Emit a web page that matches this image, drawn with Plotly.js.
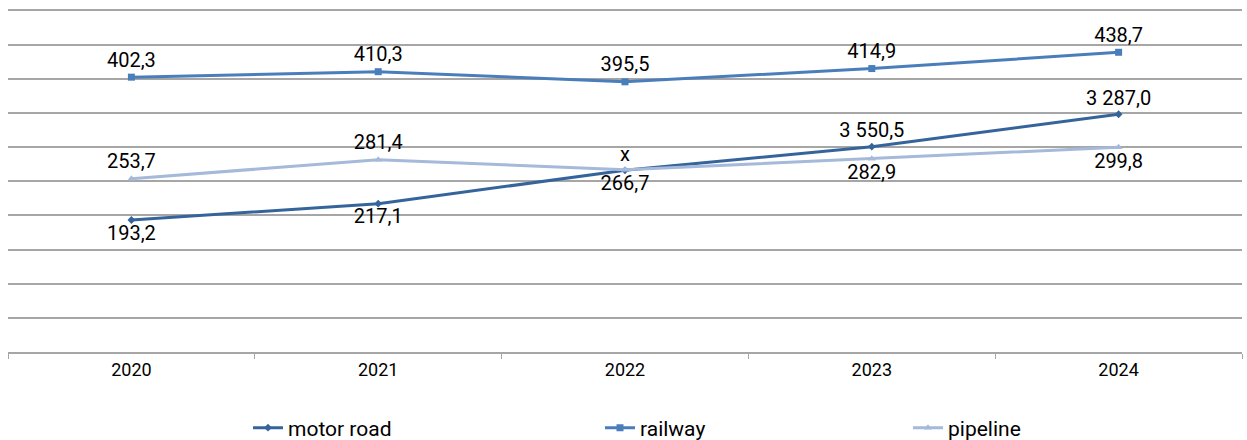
<!DOCTYPE html>
<html>
<head>
<meta charset="utf-8">
<script src="https://cdn.plot.ly/plotly-3.0.1.min.js"></script>
<style>html,body{margin:0;padding:0;background:#fff;}#chart{width:1247px;height:440px;}</style>
</head>
<body>
<div id="chart"></div>
<script>
const years = ["2020", "2021", "2022", "2023", "2024"];
const motorRoad = [193.2, 217.1, 266.0, 300.5, 348.0];
const motorRoadLabels = ["193,2", "217,1", "x", "3 550,5", "3 287,0"];
const motorRoadLabelPos = ["bottom center", "bottom center", "top center", "top center", "top center"];
const railway = [402.3, 410.3, 395.5, 414.9, 438.7];
const railwayLabels = ["402,3", "410,3", "395,5", "414,9", "438,7"];
const railwayLabelPos = ["top center", "top center", "top center", "top center", "top center"];
const pipeline = [253.7, 281.4, 266.7, 282.9, 299.8];
const pipelineLabels = ["253,7", "281,4", "266,7", "282,9", "299,8"];
const pipelineLabelPos = ["top center", "top center", "bottom center", "bottom center", "bottom center"];

const labelFont = {family: "Roboto, sans-serif", size: 20, color: "#000"};

const traces = [
  {x: years, y: motorRoad, name: "motor road", type: "scatter", mode: "lines+markers+text", legend: "legend",
   text: motorRoadLabels, textposition: motorRoadLabelPos, textfont: labelFont,
   line: {color: "#35649b", width: 3}, marker: {symbol: "diamond", size: 6, color: "#35649b"}},
  {x: years, y: railway, name: "railway", type: "scatter", mode: "lines+markers+text", legend: "legend2",
   text: railwayLabels, textposition: railwayLabelPos, textfont: labelFont,
   line: {color: "#4a7ebb", width: 3}, marker: {symbol: "square", size: 7, color: "#4a7ebb"}},
  {x: years, y: pipeline, name: "pipeline", type: "scatter", mode: "lines+markers+text", legend: "legend3",
   text: pipelineLabels, textposition: pipelineLabelPos, textfont: labelFont,
   line: {color: "#a5b9da", width: 3}, marker: {symbol: "triangle-up", size: 7, color: "#a5b9da"}}
];

const W = 1247, H = 440, L = 8, R = 5;
function legAt(textStart) {
  return {orientation: "h", xref: "container", yref: "container",
          x: (textStart - 41) / W, xanchor: "left", y: (H - 428) / H, yanchor: "middle",
          font: {size: 21, family: "Roboto, sans-serif", color: "#000"}, bgcolor: "rgba(0,0,0,0)"};
}

const layout = {
  width: W, height: H,
  margin: {l: L, r: R, t: 7, b: 88},
  paper_bgcolor: "#fff", plot_bgcolor: "#fff",
  font: {family: "Roboto, sans-serif", size: 18, color: "#000"},
  showlegend: true,
  legend: legAt(289),
  legend2: legAt(641),
  legend3: legAt(949),
  xaxis: {type: "category", range: [-0.5, 4.5], showgrid: false, showline: true, linecolor: "#a6a6a6", linewidth: 2,
          ticks: "outside", tickson: "boundaries", ticklen: 5, tickcolor: "#a6a6a6", tickwidth: 1,
          tickfont: {size: 18}, fixedrange: true, automargin: false},
  yaxis: {range: [0, 505], tick0: 0, dtick: 50, showticklabels: false, showgrid: true, gridcolor: "#a6a6a6",
          gridwidth: 2, zeroline: false, showline: false, ticks: "", fixedrange: true, automargin: false}
};

Plotly.newPlot("chart", traces, layout, {displayModeBar: false, staticPlot: true});
</script>
</body>
</html>
